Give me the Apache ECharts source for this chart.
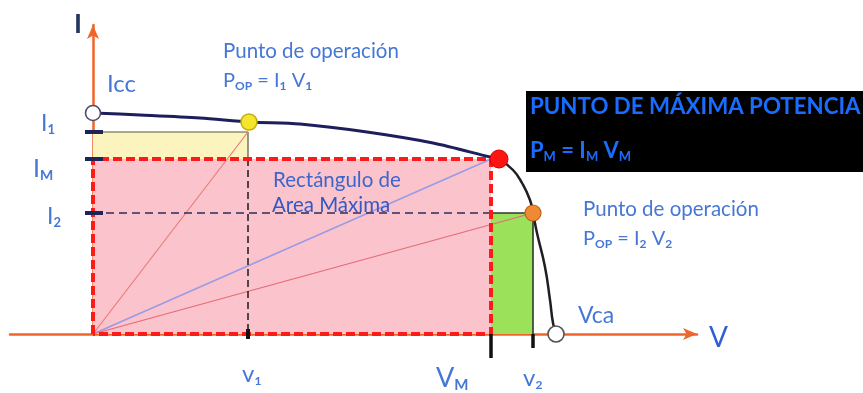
<!DOCTYPE html>
<html>
<head>
<meta charset="utf-8">
<script src="https://cdn.jsdelivr.net/npm/echarts@6/dist/echarts.min.js"></script>
<style>
  html, body { margin: 0; padding: 0; background: #ffffff; }
  #chart { width: 863px; height: 393px; }
</style>
</head>
<body>
<div id="chart"></div>
<script>
// I–V characteristic of a solar cell, with two operating points and the maximum power point.
// Units are arbitrary (V horizontally, I vertically).

// Curve from short circuit to the maximum power point
const curveUpperV = [0, 4.7, 10.7, 15.7, 20.7, 27.4, 34.0, 39.7, 40.6];
const curveUpperI = [22.1, 21.9, 21.6, 21.2, 21.0, 20.2, 19.1, 17.7, 17.5];
// Curve from the maximum power point to open circuit
const curveLowerV = [40.6, 42.0, 42.9, 43.7, 44.0, 44.4, 45.2, 45.7, 46.0, 46.3];
const curveLowerI = [17.5, 16.4, 15.1, 13.4, 12.1, 10.1, 6.7, 3.4, 1.1, 0];

// Characteristic values
const Icc = 22.1;          // short-circuit current
const Vca = 46.3;          // open-circuit voltage
const V1 = 15.5, I1 = 20.2, op1I = 21.2;   // operating point 1
const VM = 39.8, IM = 17.5, mppV = 40.6;   // maximum power point
const V2 = 44.0, I2 = 12.1;                // operating point 2

const zip = (xs, ys) => xs.map((x, i) => [x, ys[i]]);

const BLUE = '#4677d6';
const FONT = 'Lato, "Noto Sans", sans-serif';

function seg(points, color, width, type, z) {
  return {
    type: 'line', data: points, symbol: 'none', silent: true, clip: false,
    z: z, animation: false,
    lineStyle: { color: color, width: width, type: type || 'solid' }
  };
}
function fill(points, color, z) {
  return {
    type: 'line', data: points, symbol: 'none', silent: true, z: z, animation: false,
    lineStyle: { width: 0 }, areaStyle: { color: color, opacity: 1 }
  };
}
function dot(point, size, color, border, bw) {
  return {
    type: 'scatter', data: [point], symbolSize: size, silent: true, clip: false,
    z: 20, animation: false,
    itemStyle: { color: color, borderColor: border, borderWidth: bw, opacity: 1 }
  };
}

const subRich = (size, subSize, color, bold) => ({
  m: { fontSize: size, fontFamily: FONT, fill: color, color: color, lineHeight: size + 2,
       fontWeight: bold ? 'bold' : 'normal', verticalAlign: 'middle' },
  s: { fontSize: subSize, fontFamily: FONT, fill: color, color: color,
       lineHeight: subSize, fontWeight: 'bold', verticalAlign: 'bottom' }
});

function txt(x, y, text, size, color, opts) {
  opts = opts || {};
  return {
    type: 'text', x: x, y: y, z: 100, silent: true,
    style: {
      text: text, fill: color,
      font: (opts.bold ? 'bold ' : '') + size + 'px ' + FONT,
      textAlign: opts.align || 'left', textVerticalAlign: 'middle',
      rich: opts.rich
    }
  };
}

const chart = echarts.init(document.getElementById('chart'), null, { renderer: 'canvas' });

const series = [
  // operating rectangle 1 (yellow), lying under the maximum rectangle
  fill([[0, I1], [V1, I1]], '#fcf4bf', 1),
  // maximum power rectangle (pink)
  fill([[0, IM], [VM, IM]], '#fbc4cc', 2),
  // operating rectangle 2 (green)
  fill([[VM, I2], [V2, I2]], '#9ce15a', 3),
  // outlines of the operating rectangles
  seg([[0, I1], [V1, I1], [V1, IM]], '#55563a', 1.2, 'solid', 4),
  seg([[VM, I2], [V2, I2], [V2, 0]], '#2c3a2a', 1.6, 'solid', 4),
  // lines from the origin to each operating point
  seg([[0, 0], [V1, I1]], '#ee7a7a', 1.2, 'solid', 5),
  seg([[0, 0], [VM, IM]], '#9a9be6', 1.6, 'solid', 5),
  seg([[0, 0], [V2, I2]], '#e66a78', 1.2, 'solid', 5),
  // projections of the operating points
  seg([[0, I2], [VM, I2]], '#2b2d5c', 1.5, [8, 5], 6),
  seg([[V1, IM], [V1, 0]], '#1a1a1a', 1.5, [7, 4], 6),
  // border of the maximum area rectangle
  seg([[0, 0], [0, IM], [VM, IM], [VM, 0], [0, 0]], '#ff1a1a', 4, [9, 4], 7),
  // I–V curve
  Object.assign(seg(zip(curveUpperV, curveUpperI), '#1c1f5c', 3, 'solid', 8), { smooth: 0.3 }),
  Object.assign(seg(zip(curveLowerV, curveLowerI), '#1e1e24', 2.5, 'solid', 8), { smooth: 0.5 }),
  // marks on the current axis
  seg([[-0.8, I1], [1.0, I1]], '#1c2458', 4, 'solid', 9),
  seg([[-0.8, IM], [1.0, IM]], '#1c2458', 4, 'solid', 9),
  seg([[-0.8, I2], [1.0, I2]], '#1c2458', 4, 'solid', 9),
  // marks on the voltage axis
  seg([[V1, 0.5], [V1, -0.5]], '#111111', 4, 'solid', 9),
  seg([[VM, 0], [VM, -2.4]], '#111111', 3.5, 'solid', 9),
  seg([[V2, 0], [V2, -1.4]], '#111111', 3.5, 'solid', 9),
  // characteristic points
  dot([0, Icc], 15, '#ffffff', '#4a4f66', 1.6),
  dot([Vca, 0], 16, '#ffffff', '#555555', 1.6),
  dot([V1 + 0.1, op1I], 16, '#f3e62c', '#c2ad10', 1.5),
  dot([mppV, IM], 18, '#ff1414', '#d00000', 1),
  dot([V2, I2], 16, '#f08a32', '#c0601a', 1.2)
];

const op = (n) => '{m|P}{s|OP}{m| = I}{s|' + n + '}{m| V}{s|' + n + '}';

const option = {
  backgroundColor: '#ffffff',
  animation: false,
  grid: { left: 10, right: 166, top: 25, bottom: 59, containLabel: false, outerBoundsMode: 'none' },
  xAxis: {
    type: 'value', min: -8.3, max: 60.4,
    splitLine: { show: false }, axisTick: { show: false }, axisLabel: { show: false },
    axisLine: { show: true, onZero: true, symbol: ['none', 'arrow'], symbolSize: [9, 14],
                lineStyle: { color: '#f0652a', width: 2.5 } }
  },
  yAxis: {
    type: 'value', min: 0, max: 30.9,
    splitLine: { show: false }, axisTick: { show: false }, axisLabel: { show: false },
    axisLine: { show: true, onZero: true, symbol: ['none', 'arrow'], symbolSize: [9, 14],
                lineStyle: { color: '#f0652a', width: 2.5 } }
  },
  series: series,
  graphic: [
    txt(78, 24, 'I', 27, '#243660', { bold: true, align: 'center' }),
    txt(107, 84, 'Icc', 24, BLUE),
    txt(41, 124, '{m|I}{s|1}', 23, BLUE, { rich: subRich(23, 13, BLUE) }),
    txt(33, 169, '{m|I}{s|M}', 25, BLUE, { rich: subRich(25, 14, BLUE) }),
    txt(47, 217, '{m|I}{s|2}', 23, BLUE, { rich: subRich(23, 13, BLUE) }),
    txt(242, 374, '{m|v}{s|1}', 24, BLUE, { rich: subRich(24, 12, BLUE) }),
    txt(436, 378, '{m|V}{s|M}', 27, BLUE, { rich: subRich(27, 15, BLUE) }),
    txt(523, 378, '{m|v}{s|2}', 24, BLUE, { rich: subRich(24, 12, BLUE) }),
    txt(709, 338, 'V', 28, '#2f5fd6'),
    txt(578, 316, 'Vca', 23, BLUE),
    txt(223, 51, 'Punto de operación', 20.5, BLUE),
    txt(223, 81, op(1), 20, BLUE, { rich: subRich(20, 12, BLUE) }),
    txt(583, 209, 'Punto de operación', 20.5, BLUE),
    txt(583, 239, op(2), 20, BLUE, { rich: subRich(20, 12, BLUE) }),
    txt(273, 180, 'Rectángulo de', 20.5, '#3d66cc'),
    txt(272, 205, 'Area Máxima', 20.5, '#3358c4'),
    { type: 'rect', z: 90, silent: true, shape: { x: 526, y: 91, width: 337, height: 81 },
      style: { fill: '#000000' } },
    txt(530, 107, 'PUNTO DE MÁXIMA POTENCIA', 22.3, '#1a6cff', { bold: true }),
    txt(530, 151, '{m|P}{s|M}{m| = I}{s|M}{m| V}{s|M}', 22, '#1a6cff',
        { bold: true, rich: subRich(22, 13, '#1a6cff', true) })
  ]
};

chart.setOption(option);
</script>
</body>
</html>
